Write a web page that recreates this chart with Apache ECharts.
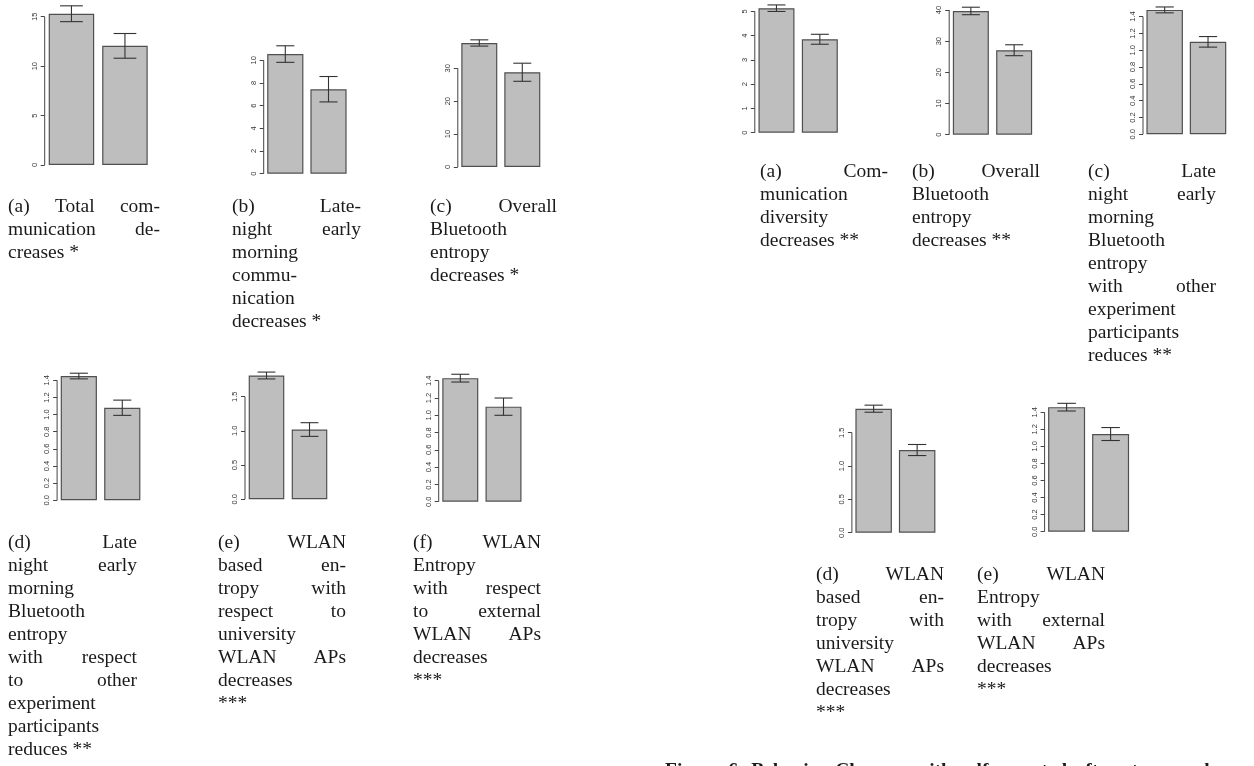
<!DOCTYPE html>
<html>
<head>
<meta charset="utf-8">
<script src="https://cdn.jsdelivr.net/npm/echarts@6/dist/echarts.min.js"></script>
<style>
  html, body { margin: 0; padding: 0; background: #ffffff; }
  #chart { width: 1254px; height: 766px; }
</style>
</head>
<body>
<div id="chart"></div>
<script>
// Two bars per panel: before / after period
const groups = ['before', 'after'];

// ---- Left figure: behaviour changes (means and standard errors) ----
const totalCommMean = [15.3, 12.05];
const totalCommSE   = [0.8, 1.25];
const totalCommTicks = [0, 5, 10, 15];

const lateCommMean = [10.55, 7.45];
const lateCommSE   = [0.73, 1.12];
const lateCommTicks = [0, 2, 4, 6, 8, 10];

const btEntropyMean = [37.7, 28.8];
const btEntropySE   = [0.95, 2.75];
const btEntropyTicks = [0, 10, 20, 30];

const lateBtMean = [1.45, 1.08];
const lateBtSE   = [0.033, 0.089];
const lateBtTicks = [0, 0.2, 0.4, 0.6, 0.8, 1.0, 1.2, 1.4];

const uniWlanMean = [1.81, 1.02];
const uniWlanSE   = [0.05, 0.10];
const uniWlanTicks = [0, 0.5, 1.0, 1.5];

const extWlanMean = [1.43, 1.10];
const extWlanSE   = [0.045, 0.10];
const extWlanTicks = [0, 0.2, 0.4, 0.6, 0.8, 1.0, 1.2, 1.4];

// ---- Right figure: changes with self-reported stress ----
const commDivMean = [5.13, 3.85];
const commDivSE   = [0.135, 0.205];
const commDivTicks = [0, 1, 2, 3, 4, 5];

const btEntropy2Mean = [39.7, 27.1];
const btEntropy2SE   = [1.2, 1.75];
const btEntropy2Ticks = [0, 10, 20, 30, 40];

const lateBt2Mean = [1.48, 1.10];
const lateBt2SE   = [0.035, 0.063];
const lateBt2Ticks = [0, 0.2, 0.4, 0.6, 0.8, 1.0, 1.2, 1.4];

const uniWlan2Mean = [1.86, 1.24];
const uniWlan2SE   = [0.053, 0.083];
const uniWlan2Ticks = [0, 0.5, 1.0, 1.5];

const extWlan2Mean = [1.46, 1.145];
const extWlan2SE   = [0.045, 0.076];
const extWlan2Ticks = [0, 0.2, 0.4, 0.6, 0.8, 1.0, 1.2, 1.4];

// ---- Sub-captions (one entry per typeset line) ----
const capA1 = ['(a) Total com-', 'munication de-', 'creases *'];
const capB1 = ['(b) Late-', 'night early', 'morning', 'commu-', 'nication', 'decreases *'];
const capC1 = ['(c) Overall', 'Bluetooth', 'entropy', 'decreases *'];
const capD1 = ['(d) Late', 'night early', 'morning', 'Bluetooth', 'entropy', 'with respect', 'to other', 'experiment', 'participants', 'reduces **'];
const capE1 = ['(e) WLAN', 'based en-', 'tropy with', 'respect to', 'university', 'WLAN APs', 'decreases', '***'];
const capF1 = ['(f) WLAN', 'Entropy', 'with respect', 'to external', 'WLAN APs', 'decreases', '***'];
const capA2 = ['(a) Com-', 'munication', 'diversity', 'decreases **'];
const capB2 = ['(b) Overall', 'Bluetooth', 'entropy', 'decreases **'];
const capC2 = ['(c) Late', 'night early', 'morning', 'Bluetooth', 'entropy', 'with other', 'experiment', 'participants', 'reduces **'];
const capD2 = ['(d) WLAN', 'based en-', 'tropy with', 'university', 'WLAN APs', 'decreases', '***'];
const capE2 = ['(e) WLAN', 'Entropy', 'with external', 'WLAN APs', 'decreases', '***'];

const figureCaption = 'Figure 6. Behavior Changes with self-reported after stress scales';

// ---- Panel layout (pixel placement of each small barplot and its caption) ----
const panels = [
  { mean: totalCommMean, se: totalCommSE, ticks: totalCommTicks, dec: 0, left: 44.7, bottom: 165, width: 107, ppu: 9.887, yMax: 16.6, barW: 45.5, cap: capA1, capX: 8, capW: 152, capY: 207 },
  { mean: lateCommMean, se: lateCommSE, ticks: lateCommTicks, dec: 0, left: 263.7, bottom: 173.7, width: 86.4, ppu: 11.34, yMax: 11.6, barW: 36.2, cap: capB1, capX: 232, capW: 129, capY: 207 },
  { mean: btEntropyMean, se: btEntropySE, ticks: btEntropyTicks, dec: 0, left: 457.8, bottom: 167, width: 86, ppu: 3.29, yMax: 39.5, barW: 36, cap: capC1, capX: 430, capW: 127, capY: 207 },
  { mean: lateBtMean, se: lateBtSE, ticks: lateBtTicks, dec: 1, left: 57.1, bottom: 500.3, width: 86.9, ppu: 85.7, yMax: 1.52, barW: 36.2, cap: capD1, capX: 8, capW: 129, capY: 543 },
  { mean: uniWlanMean, se: uniWlanSE, ticks: uniWlanTicks, dec: 1, left: 245, bottom: 499.3, width: 86, ppu: 68.4, yMax: 1.9, barW: 35.6, cap: capE1, capX: 218, capW: 128, capY: 543 },
  { mean: extWlanMean, se: extWlanSE, ticks: extWlanTicks, dec: 1, left: 438.7, bottom: 501.7, width: 86.4, ppu: 86.4, yMax: 1.52, barW: 36, cap: capF1, capX: 413, capW: 128, capY: 543 },
  { mean: commDivMean, se: commDivSE, ticks: commDivTicks, dec: 0, left: 754.8, bottom: 132.7, width: 86.7, ppu: 24.27, yMax: 5.4, barW: 36, cap: capA2, capX: 760, capW: 128, capY: 172 },
  { mean: btEntropy2Mean, se: btEntropy2SE, ticks: btEntropy2Ticks, dec: 0, left: 949.2, bottom: 134.7, width: 86.6, ppu: 3.117, yMax: 41.5, barW: 36, cap: capB2, capX: 912, capW: 128, capY: 172 },
  { mean: lateBt2Mean, se: lateBt2SE, ticks: lateBt2Ticks, dec: 1, left: 1143, bottom: 134.3, width: 86.7, ppu: 84.05, yMax: 1.55, barW: 36.5, cap: capC2, capX: 1088, capW: 128, capY: 172 },
  { mean: uniWlan2Mean, se: uniWlan2SE, ticks: uniWlan2Ticks, dec: 1, left: 851.9, bottom: 532.7, width: 87, ppu: 66.67, yMax: 1.95, barW: 36.5, cap: capD2, capX: 816, capW: 128, capY: 575 },
  { mean: extWlan2Mean, se: extWlan2SE, ticks: extWlan2Ticks, dec: 1, left: 1044.6, bottom: 531.7, width: 88, ppu: 85.3, yMax: 1.55, barW: 37, cap: capE2, capX: 977, capW: 128, capY: 575 }
];

const CAP_FONT_SIZE = 19.5;
const CAP_FONT = CAP_FONT_SIZE + 'px "Liberation Serif", "Times New Roman", serif';
const CAP_BOLD = 'bold ' + CAP_FONT;
const CAP_LINE = 23;
const INK = '#1a1a1a';

// Text measurement for justified caption lines
const measureCtx = document.createElement('canvas').getContext('2d');
function textWidth(s, font) { measureCtx.font = font; return measureCtx.measureText(s).width; }

function justifiedLine(line, x0, colW, y, font, out) {
  const words = line.split(' ');
  const total = words.reduce((s, w) => s + textWidth(w, font), 0);
  const gap = (colW - total) / (words.length - 1);
  let x = x0;
  words.forEach(w => {
    out.push({ type: 'text', x: x, y: y, style: { text: w, font: font, fill: INK, textAlign: 'left', textVerticalAlign: 'middle' } });
    x += textWidth(w, font) + gap;
  });
}

function captionElements(lines, x0, colW, y0) {
  const out = [];
  lines.forEach((line, i) => {
    const y = y0 + i * CAP_LINE;
    const isLast = i === lines.length - 1;
    if (isLast || line.indexOf(' ') < 0) {
      out.push({ type: 'text', x: x0, y: y, style: { text: line, font: CAP_FONT, fill: INK, textAlign: 'left', textVerticalAlign: 'middle' } });
    } else {
      justifiedLine(line, x0, colW, y, CAP_FONT, out);
    }
  });
  return out;
}

function errorBarRenderer(capW) {
  return function (params, api) {
    const xi = api.value(0);
    const lo = api.coord([xi, api.value(1)]);
    const hi = api.coord([xi, api.value(2)]);
    const h = capW / 2;
    const st = { stroke: '#333333', lineWidth: 1.1, fill: null };
    return {
      type: 'group',
      children: [
        { type: 'line', shape: { x1: lo[0], y1: lo[1], x2: hi[0], y2: hi[1] }, style: st },
        { type: 'line', shape: { x1: lo[0] - h, y1: lo[1], x2: lo[0] + h, y2: lo[1] }, style: st },
        { type: 'line', shape: { x1: hi[0] - h, y1: hi[1], x2: hi[0] + h, y2: hi[1] }, style: st }
      ]
    };
  };
}

// R-style axis line: runs only from the first to the last tick
function axisLineRenderer(params, api) {
  const x = params.coordSys.x;
  const a = api.coord([0, api.value(1)]);
  const b = api.coord([0, api.value(2)]);
  return { type: 'line', shape: { x1: x, y1: a[1], x2: x, y2: b[1] }, style: { stroke: '#444444', lineWidth: 1 } };
}

const grid = [], xAxis = [], yAxis = [], series = [], graphic = [];

panels.forEach((p, i) => {
  const h = p.yMax * p.ppu;
  grid.push({ left: p.left, top: p.bottom - h, width: p.width, height: h, containLabel: false });
  xAxis.push({
    gridIndex: i, type: 'category', data: groups, boundaryGap: true,
    axisLine: { show: false }, axisTick: { show: false }, axisLabel: { show: false }, splitLine: { show: false }
  });
  yAxis.push({
    gridIndex: i, type: 'value', min: 0, max: p.yMax,
    splitLine: { show: false }, axisLine: { show: false },
    axisTick: { show: true, length: 4, customValues: p.ticks, lineStyle: { color: '#444444', width: 1 } },
    axisLabel: {
      customValues: p.ticks, rotate: 90, margin: 6, fontSize: 7.5,
      fontFamily: '"Liberation Sans", Arial, sans-serif', color: '#333333',
      formatter: v => Number(v).toFixed(p.dec)
    }
  });
  series.push({
    type: 'bar', xAxisIndex: i, yAxisIndex: i, data: p.mean, barWidth: p.barW, z: 2,
    itemStyle: { color: '#bebebe', borderColor: '#505050', borderWidth: 1.2 },
    silent: true, animation: false
  });
  series.push({
    type: 'custom', xAxisIndex: i, yAxisIndex: i, clip: false, silent: true, animation: false, z: 5,
    renderItem: errorBarRenderer(p.barW * 0.5),
    data: p.mean.map((m, k) => [k, m - p.se[k], m + p.se[k]])
  });
  series.push({
    type: 'custom', xAxisIndex: i, yAxisIndex: i, clip: false, silent: true, animation: false, z: 5,
    renderItem: axisLineRenderer,
    data: [[0, p.ticks[0], p.ticks[p.ticks.length - 1]]]
  });
  captionElements(p.cap, p.capX, p.capW, p.capY).forEach(e => graphic.push(e));
});

// Figure caption, first line set justified across the column
justifiedLine(figureCaption, 665, 561, 771, CAP_BOLD, graphic);

const chart = echarts.init(document.getElementById('chart'), null, { renderer: 'canvas' });
chart.setOption({ backgroundColor: '#ffffff', animation: false, grid, xAxis, yAxis, series, graphic });
</script>
</body>
</html>
